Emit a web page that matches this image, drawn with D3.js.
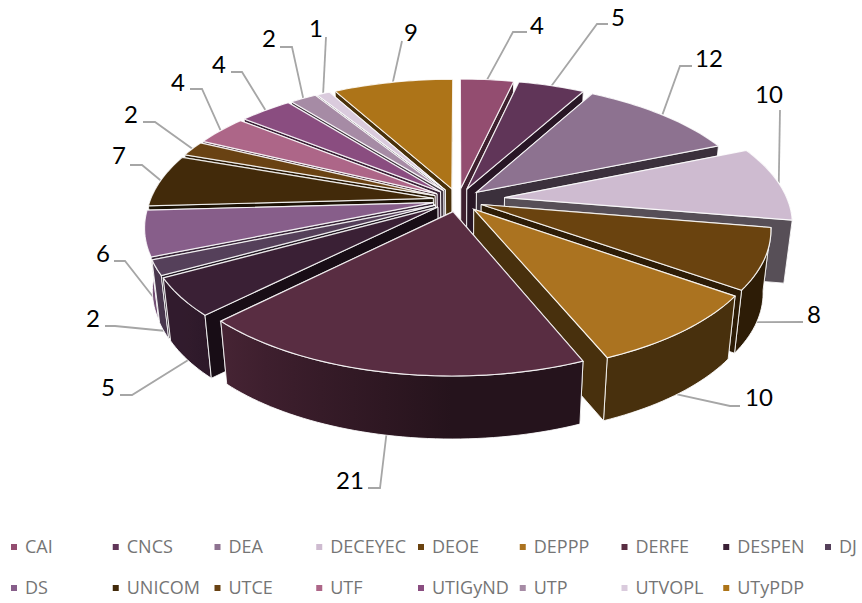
<!DOCTYPE html>
<html>
<head>
<meta charset="utf-8">
<script src="https://d3js.org/d3.v7.min.js"></script>
<style>
  html, body { margin: 0; padding: 0; background: #fff; }
</style>
</head>
<body>
<div id="chart-area"></div>
<script>
var categories = ["CAI", "CNCS", "DEA", "DECEYEC", "DEOE", "DEPPP", "DERFE", "DESPEN", "DJ",
                  "DS", "UNICOM", "UTCE", "UTF", "UTIGyND", "UTP", "UTVOPL", "UTyPDP"];
var values = [4, 5, 12, 10, 8, 10, 21, 5, 2, 6, 7, 2, 4, 4, 2, 1, 9];
var colors = ["#934D70", "#603558", "#8D7290", "#CEBBD0", "#6A430F", "#AB7320", "#592D42", "#3A2035", "#55405A",
              "#875E8A", "#422A0A", "#694213", "#AD6688", "#8A4D80", "#A68BA5", "#DACBDD", "#AD7418"];
// how far each slice is pulled out of the pie
var explode = [25, 25, 25, 47, 25, 25, 25, 25, 25, 25, 25, 25, 25, 25, 25, 25, 25];

// leader line bends and label centres, one per slice
var leaders = [
  [[513, 32], [527, 32]], [[597, 24], [608, 24]], [[680, 66], [692, 66]], [[780, 110]],
  [[803, 322]], [[730, 406], [740, 406]], [[380, 488], [368, 488]], [[132, 395], [120, 395]],
  [[115, 326], [105, 326]], [[125, 261], [114, 261]], [[142, 165], [130, 165]], [[155, 122], [143, 122]],
  [[202, 89], [190, 89]], [[242, 72], [231, 72]], [[292, 47], [280, 47]], [[326, 37]], [[402, 41]]
];
var labelPos = [
  [537, 25], [618, 17], [709, 58], [769, 94], [814, 314], [759, 397], [350, 480], [108, 387],
  [93, 318], [103, 253], [119, 155], [131, 114], [178, 82], [219, 64], [269, 38], [316, 28], [411, 32]
];

var width = 862;
var height = 603;
var cx = 458, cy = 200;
var radius = 283;
var tilt = 0.466;
var persp = 0.171;
var depth = 63;

var svg = d3.select("#chart-area").append("svg")
    .attr("width", width)
    .attr("height", height)
    .style("display", "block");
var defs = svg.append("defs");

var color = d3.scaleOrdinal().domain(categories).range(colors);

var pie = d3.pie().sort(null).value((d, i) => values[i]).startAngle(0).endAngle(2 * Math.PI);
var arcs = pie(categories).map((a, i) => {
  a.name = categories[i];
  a.value = values[i];
  a.mid = (a.startAngle + a.endAngle) / 2;
  a.ex = explode[i];
  a.index = i;
  return a;
});

// ground plane to screen, z is how far below the top surface
function project(gx, gy, z) {
  var s = 1 / (1 - persp * gy / radius);
  var shrink = 1 - 0.025 * z / depth;
  return [cx + gx * s * shrink, cy + gy * tilt * s + z];
}
function apex(a, z) {
  return project(a.ex * Math.sin(a.mid), -a.ex * Math.cos(a.mid), z);
}
function rim(a, t, z) {
  return project(a.ex * Math.sin(a.mid) + radius * Math.sin(t),
                 -a.ex * Math.cos(a.mid) - radius * Math.cos(t), z);
}
function rimPoints(a, z) {
  var n = Math.max(4, Math.ceil((a.endAngle - a.startAngle) * 40));
  return d3.range(n + 1).map((k) => {
    return rim(a, a.startAngle + (a.endAngle - a.startAngle) * k / n, z);
  });
}
function shade(t) {
  var deg = t * 180 / Math.PI;
  if (deg <= 180) return 0.42;
  if (deg >= 232) return 0.85;
  return 0.42 + (deg - 180) / 52 * 0.43;
}
function darker(c, f) {
  var r = d3.rgb(c);
  return d3.rgb(r.r * f, r.g * f, r.b * f).formatHex();
}

var line = d3.line();

// leader lines go under the slices, front ones leave from the bottom of the wall
var leaderG = svg.append("g");
arcs.forEach((a, i) => {
  var pts = [rim(a, a.mid, Math.cos(a.mid) < 0 ? depth : 0)].concat(leaders[i]);
  leaderG.append("path")
    .attr("d", line(pts))
    .attr("fill", "none")
    .attr("stroke", "#A6A6A6")
    .attr("stroke-width", 1.8);
});

// back slices first
var order = arcs.slice().sort((a, b) => Math.cos(b.mid) - Math.cos(a.mid));
var pieG = svg.append("g");
order.forEach((a) => {
  var g = pieG.append("g").attr("class", "slice");
  var base = color(a.name);
  var edge = { stroke: "#fff", width: 1, opacity: 0.85 };

  function straightWall(t) {
    g.append("path")
      .attr("d", line([apex(a, 0), rim(a, t, 0), rim(a, t, depth), apex(a, depth)]) + "Z")
      .attr("fill", darker(base, 0.42))
      .attr("stroke", edge.stroke).attr("stroke-width", edge.width).attr("stroke-opacity", edge.opacity);
  }
  // a wall faces the viewer only if its outward side points to the front
  var startFront = Math.sin(a.startAngle) < 0;
  var endFront = Math.sin(a.endAngle) > 0;
  if (!startFront) straightWall(a.startAngle);
  if (!endFront) straightWall(a.endAngle);

  // curved outer wall, shaded along the rim
  var topPts = rimPoints(a, 0);
  var botPts = rimPoints(a, depth);
  var gradId = "wall" + a.index;
  var grad = defs.append("linearGradient").attr("id", gradId)
    .attr("gradientUnits", "userSpaceOnUse")
    .attr("x1", topPts[0][0]).attr("y1", 0)
    .attr("x2", topPts[topPts.length - 1][0] + 0.01).attr("y2", 0);
  d3.range(7).forEach((k) => {
    var t = a.startAngle + (a.endAngle - a.startAngle) * k / 6;
    var x = rim(a, t, 0)[0];
    var off = (x - topPts[0][0]) / (topPts[topPts.length - 1][0] + 0.01 - topPts[0][0]);
    grad.append("stop")
      .attr("offset", Math.max(0, Math.min(1, off)))
      .attr("stop-color", darker(base, shade(t)));
  });
  g.append("path")
    .attr("d", line(topPts.concat(botPts.slice().reverse())) + "Z")
    .attr("fill", "url(#" + gradId + ")")
    .attr("stroke", edge.stroke).attr("stroke-width", edge.width).attr("stroke-opacity", edge.opacity);

  if (startFront) straightWall(a.startAngle);
  if (endFront) straightWall(a.endAngle);

  // top face
  g.append("path")
    .attr("d", line([apex(a, 0)].concat(topPts)) + "Z")
    .attr("fill", base)
    .attr("stroke", edge.stroke).attr("stroke-width", edge.width + 0.2).attr("stroke-opacity", edge.opacity);
});

// value labels
svg.append("g").selectAll("text")
  .data(arcs)
  .enter()
  .append("text")
  .attr("x", (d) => labelPos[d.index][0])
  .attr("y", (d) => labelPos[d.index][1])
  .attr("dy", "0.36em")
  .attr("text-anchor", "middle")
  .attr("font-family", "Lato, sans-serif")
  .attr("font-size", 24)
  .attr("fill", "#000")
  .text((d) => d.value);

// legend, two rows of nine columns
var perRow = 9;
var legendX = d3.scalePoint().domain(d3.range(perRow)).range([14, 828]);
var legendY = d3.scalePoint().domain([0, 1]).range([547, 588]);
var legend = svg.append("g").selectAll("g")
  .data(categories)
  .enter()
  .append("g")
  .attr("transform", (d, i) => "translate(" + legendX(i % perRow) + "," + legendY(Math.floor(i / perRow)) + ")");
legend.append("rect")
  .attr("x", -3).attr("y", -3).attr("width", 6).attr("height", 6)
  .attr("fill", (d) => color(d));
legend.append("text")
  .attr("x", 11)
  .attr("dy", "0.35em")
  .attr("font-family", "'Open Sans', sans-serif")
  .attr("font-size", 18)
  .attr("fill", "#757575")
  .text((d) => d);
</script>
</body>
</html>
